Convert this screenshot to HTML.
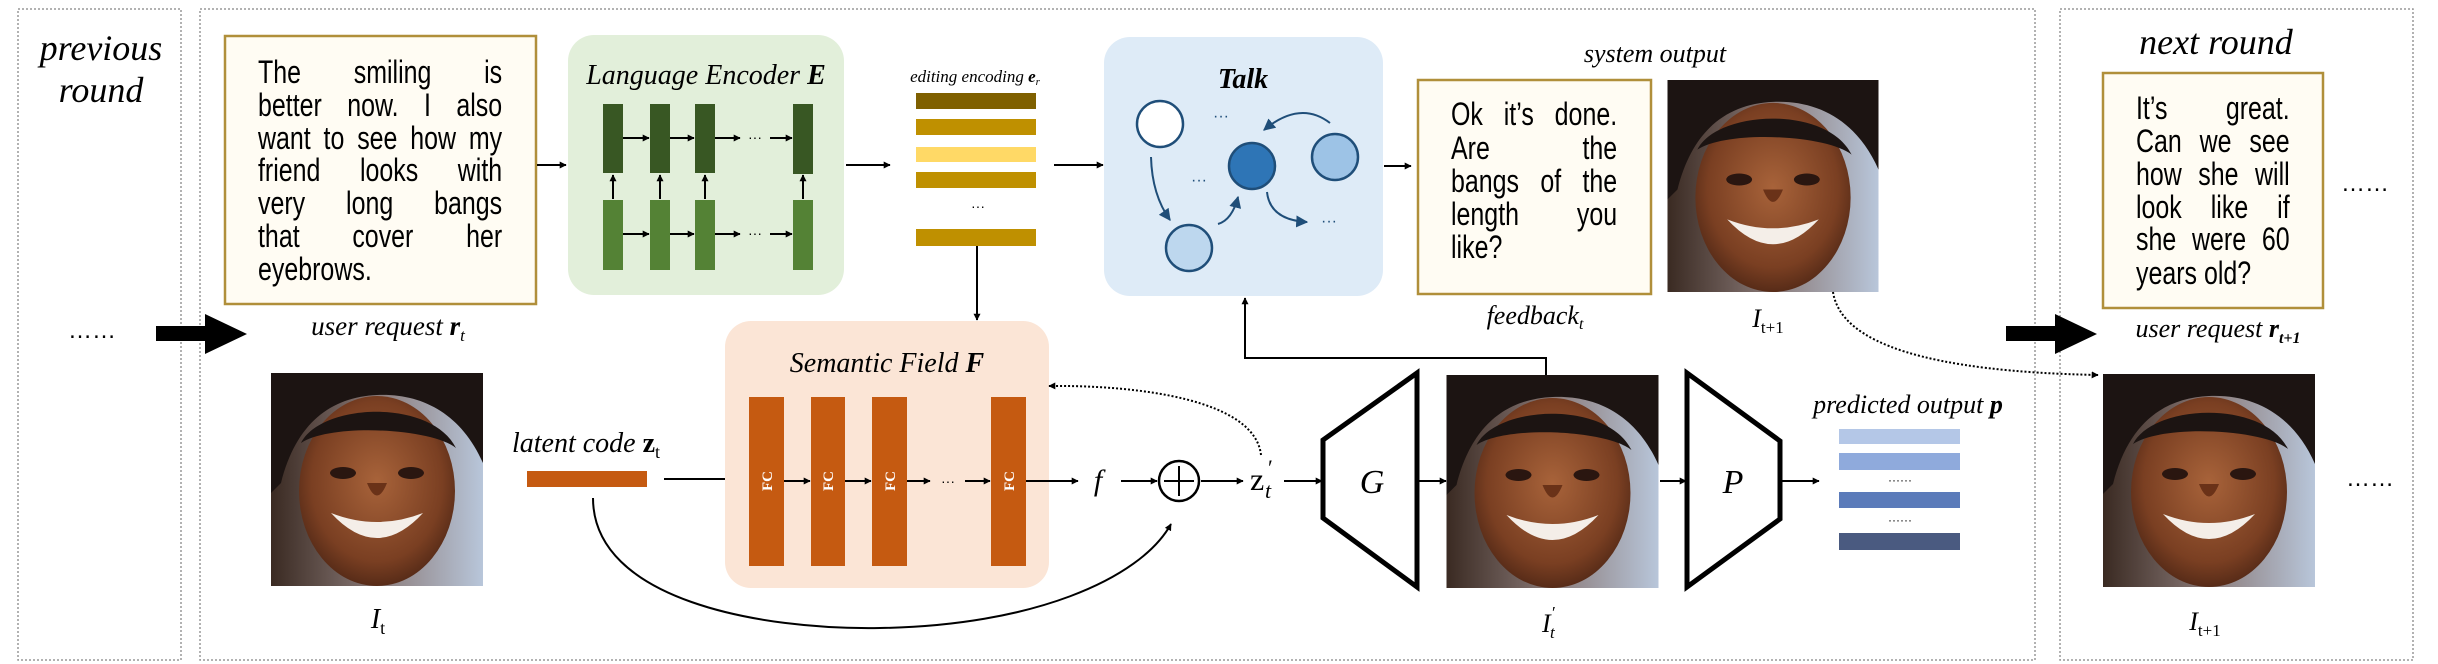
<!DOCTYPE html>
<html><head><meta charset="utf-8"><style>
html,body{margin:0;padding:0;background:#fff;}
body{position:relative;width:2438px;height:664px;overflow:hidden;}
svg{display:block;position:absolute;left:0;top:0;}
.it{font-family:"Liberation Serif",serif;font-style:italic;}
.ln{position:absolute;font-family:"Liberation Sans",sans-serif;font-size:32px;line-height:32px;white-space:nowrap;transform:scaleX(0.78);transform-origin:0 0;text-align:justify;text-align-last:justify;}
.ln.l{text-align:left;text-align-last:left;}
</style></head><body>
<svg width="2438" height="664" viewBox="0 0 2438 664" xmlns="http://www.w3.org/2000/svg">
<defs>
<marker id="ahs" viewBox="0 0 10 10" refX="9" refY="5" markerWidth="7" markerHeight="7" orient="auto" markerUnits="userSpaceOnUse"><path d="M0,0 L10,5 L0,10 z" fill="#000"/></marker>
<marker id="ahb" viewBox="0 0 10 10" refX="9" refY="5" markerWidth="6" markerHeight="6" orient="auto" markerUnits="strokeWidth"><path d="M0,0 L10,5 L0,10 z" fill="#1f4e79"/></marker>
<linearGradient id="bg" x1="0" y1="0" x2="1" y2="0"><stop offset="0" stop-color="#3a2a22"/><stop offset="0.5" stop-color="#8a7a78"/><stop offset="1" stop-color="#b8c6da"/></linearGradient>
<radialGradient id="skin" cx="0.5" cy="0.45" r="0.6"><stop offset="0" stop-color="#a8633a"/><stop offset="0.7" stop-color="#7a3f22"/><stop offset="1" stop-color="#4a2414"/></radialGradient>
<symbol id="face" viewBox="0 0 212 213">
<rect width="212" height="213" fill="url(#bg)"/>
<path d="M0,0 H212 V90 C190,40 150,20 106,22 C60,24 25,50 10,110 L0,120 Z" fill="#1c1412"/>
<ellipse cx="106" cy="118" rx="78" ry="95" fill="url(#skin)"/>
<path d="M30,70 C50,30 160,25 185,75 C160,55 60,50 30,70 Z" fill="#1c1412"/>
<ellipse cx="72" cy="100" rx="13" ry="6" fill="#2a1610"/>
<ellipse cx="140" cy="100" rx="13" ry="6" fill="#2a1610"/>
<path d="M60,140 Q106,190 152,140 Q106,158 60,140 Z" fill="#f4eee8"/>
<path d="M96,110 Q106,135 116,110" fill="#6a3218"/>
</symbol>
</defs>

<rect x="18" y="9" width="163" height="651" fill="none" stroke="#999" stroke-width="1.5" stroke-dasharray="2,2"/>
<rect x="200" y="9" width="1835" height="651" fill="none" stroke="#999" stroke-width="1.5" stroke-dasharray="2,2"/>
<rect x="2060" y="9" width="353" height="651" fill="none" stroke="#999" stroke-width="1.5" stroke-dasharray="2,2"/>

<text class="it" x="101" y="60" font-size="36" text-anchor="middle">previous</text>
<text class="it" x="101" y="102" font-size="36" text-anchor="middle">round</text>
<text class="it" x="2216" y="54" font-size="36" text-anchor="middle">next round</text>

<text x="92" y="338" font-size="24" text-anchor="middle" font-family="Liberation Sans,sans-serif">……</text>
<path d="M156,326 H205 V314 L247,334 L205,354 V341 H156 Z" fill="#000"/>
<path d="M2006,326 H2055 V314 L2097,334 L2055,354 V341 H2006 Z" fill="#000"/>
<text x="2365" y="191" font-size="24" text-anchor="middle" font-family="Liberation Sans,sans-serif">……</text>
<text x="2370" y="486" font-size="24" text-anchor="middle" font-family="Liberation Sans,sans-serif">……</text>

<rect x="225" y="36" width="311" height="268" fill="#fffcf3" stroke="#b08f3a" stroke-width="2.5"/>
<text class="it" x="388" y="335" font-size="27" text-anchor="middle">user request <tspan font-weight="bold">r</tspan><tspan font-size="17" dy="6">t</tspan></text>
<line x1="537" y1="165" x2="566" y2="165" stroke="#000" stroke-width="2" marker-end="url(#ahs)"/>

<rect x="568" y="35" width="276" height="260" rx="26" fill="#e2efda"/>
<text class="it" x="706" y="84" font-size="28" text-anchor="middle">Language Encoder <tspan font-weight="bold">E</tspan></text>
<g fill="#385723"><rect x="603" y="104" width="20" height="69"/><rect x="650" y="104" width="20" height="69"/><rect x="695" y="104" width="20" height="69"/><rect x="793" y="104" width="20" height="70"/></g>
<g fill="#548235"><rect x="603" y="200" width="20" height="70"/><rect x="650" y="200" width="20" height="70"/><rect x="695" y="200" width="20" height="70"/><rect x="793" y="200" width="20" height="70"/></g>
<g stroke="#000" stroke-width="2">
<line x1="623" y1="138" x2="649" y2="138" marker-end="url(#ahs)"/><line x1="670" y1="138" x2="694" y2="138" marker-end="url(#ahs)"/><line x1="715" y1="138" x2="740" y2="138" marker-end="url(#ahs)"/><line x1="770" y1="138" x2="792" y2="138" marker-end="url(#ahs)"/>
<line x1="623" y1="234" x2="649" y2="234" marker-end="url(#ahs)"/><line x1="670" y1="234" x2="694" y2="234" marker-end="url(#ahs)"/><line x1="715" y1="234" x2="740" y2="234" marker-end="url(#ahs)"/><line x1="770" y1="234" x2="792" y2="234" marker-end="url(#ahs)"/>
<line x1="613" y1="199" x2="613" y2="175" marker-end="url(#ahs)"/><line x1="660" y1="199" x2="660" y2="175" marker-end="url(#ahs)"/><line x1="705" y1="199" x2="705" y2="175" marker-end="url(#ahs)"/><line x1="803" y1="199" x2="803" y2="175" marker-end="url(#ahs)"/>
</g>
<text x="755" y="142" font-size="14" text-anchor="middle" font-family="Liberation Sans,sans-serif">···</text>
<text x="755" y="238" font-size="14" text-anchor="middle" font-family="Liberation Sans,sans-serif">···</text>
<line x1="846" y1="165" x2="890" y2="165" stroke="#000" stroke-width="2" marker-end="url(#ahs)"/>

<text class="it" x="975" y="82" font-size="17" text-anchor="middle">editing encoding <tspan font-weight="bold">e</tspan><tspan font-size="11" dy="3">r</tspan></text>
<rect x="916" y="93" width="120" height="16" fill="#7f6000"/>
<rect x="916" y="119" width="120" height="16" fill="#bf9000"/>
<rect x="916" y="147" width="120" height="15" fill="#ffd966"/>
<rect x="916" y="172" width="120" height="16" fill="#bf9000"/>
<text x="978" y="211" font-size="14" text-anchor="middle" font-family="Liberation Sans,sans-serif">···</text>
<rect x="916" y="229" width="120" height="17" fill="#bf9000"/>
<line x1="1054" y1="165" x2="1103" y2="165" stroke="#000" stroke-width="2" marker-end="url(#ahs)"/>
<line x1="977" y1="246" x2="977" y2="320" stroke="#000" stroke-width="2" marker-end="url(#ahs)"/>

<rect x="1104" y="37" width="279" height="259" rx="26" fill="#deebf7"/>
<text class="it" x="1243" y="88" font-size="28" font-weight="bold" text-anchor="middle">Talk</text>
<g stroke="#1f4e79" stroke-width="2.5">
<circle cx="1160" cy="124" r="23" fill="#fff"/>
<circle cx="1189" cy="248" r="23" fill="#bdd7ee"/>
<circle cx="1252" cy="166" r="23" fill="#2e75b6"/>
<circle cx="1335" cy="157" r="23" fill="#9dc3e6"/>
</g>
<g stroke="#1f4e79" stroke-width="2" fill="none">
<path d="M1151,157 Q1152,195 1170,220" marker-end="url(#ahb)"/>
<path d="M1218,224 Q1232,220 1238,197" marker-end="url(#ahb)"/>
<path d="M1330,123 Q1300,100 1264,130" marker-end="url(#ahb)"/>
<path d="M1267,192 Q1270,220 1307,222" marker-end="url(#ahb)"/>
</g>
<g fill="#1f4e79" font-size="16" text-anchor="middle" font-family="Liberation Sans,sans-serif">
<text x="1221" y="121">···</text><text x="1199" y="185">···</text><text x="1329" y="226">···</text>
</g>
<line x1="1384" y1="166" x2="1411" y2="166" stroke="#000" stroke-width="2" marker-end="url(#ahs)"/>

<text class="it" x="1655" y="62" font-size="26" text-anchor="middle">system output</text>
<rect x="1418" y="80" width="233" height="214" fill="#fffcf3" stroke="#b08f3a" stroke-width="2.5"/>
<text class="it" x="1535" y="324" font-size="26" text-anchor="middle">feedback<tspan font-size="16" dy="5">t</tspan></text>
<use href="#face" x="1667" y="80" width="212" height="212"/>
<text class="it" x="1768" y="327" font-size="26" text-anchor="middle">I<tspan font-size="17" dy="6" font-style="normal">t+1</tspan></text>

<rect x="2103" y="73" width="220" height="235" fill="#fffcf3" stroke="#b08f3a" stroke-width="2.5"/>
<text class="it" x="2218" y="337" font-size="26" text-anchor="middle">user request <tspan font-weight="bold">r</tspan><tspan font-size="16" dy="6" font-weight="bold">t+1</tspan></text>
<use href="#face" x="2103" y="374" width="212" height="213"/>
<text class="it" x="2205" y="630" font-size="26" text-anchor="middle">I<tspan font-size="17" dy="6" font-style="normal">t+1</tspan></text>
<path d="M1833,292 Q1845,370 2098,375" fill="none" stroke="#000" stroke-width="2" stroke-dasharray="2,2" marker-end="url(#ahs)"/>

<use href="#face" x="271" y="373" width="212" height="213"/>
<text class="it" x="378" y="628" font-size="28" text-anchor="middle">I<tspan font-size="18" dy="6" font-style="normal">t</tspan></text>
<text class="it" x="586" y="452" font-size="28" text-anchor="middle">latent code <tspan font-weight="bold" font-style="normal">z</tspan><tspan font-size="18" dy="6" font-style="normal">t</tspan></text>
<rect x="527" y="471" width="120" height="16" fill="#c55a11"/>
<line x1="664" y1="479" x2="747" y2="479" stroke="#000" stroke-width="2" marker-end="url(#ahs)"/>

<rect x="725" y="321" width="324" height="267" rx="26" fill="#fbe5d6"/>
<text class="it" x="887" y="372" font-size="28" text-anchor="middle">Semantic Field <tspan font-weight="bold">F</tspan></text>
<g fill="#c55a11"><rect x="749" y="397" width="35" height="169"/><rect x="811" y="397" width="34" height="169"/><rect x="872" y="397" width="35" height="169"/><rect x="991" y="397" width="35" height="169"/></g>
<g fill="#fff" font-family="Liberation Serif,serif" font-size="15" font-weight="bold" text-anchor="middle">
<text transform="translate(772,481) rotate(-90)">FC</text><text transform="translate(833,481) rotate(-90)">FC</text><text transform="translate(895,481) rotate(-90)">FC</text><text transform="translate(1014,481) rotate(-90)">FC</text>
</g>
<g stroke="#000" stroke-width="2">
<line x1="784" y1="481" x2="810" y2="481" marker-end="url(#ahs)"/><line x1="845" y1="481" x2="871" y2="481" marker-end="url(#ahs)"/><line x1="907" y1="481" x2="930" y2="481" marker-end="url(#ahs)"/><line x1="965" y1="481" x2="990" y2="481" marker-end="url(#ahs)"/>
<line x1="1026" y1="481" x2="1078" y2="481" marker-end="url(#ahs)"/><line x1="1121" y1="481" x2="1157" y2="481" marker-end="url(#ahs)"/><line x1="1201" y1="481" x2="1243" y2="481" marker-end="url(#ahs)"/><line x1="1284" y1="481" x2="1322" y2="481" marker-end="url(#ahs)"/>
<line x1="1419" y1="481" x2="1446" y2="481" marker-end="url(#ahs)"/><line x1="1660" y1="481" x2="1686" y2="481" marker-end="url(#ahs)"/><line x1="1781" y1="481" x2="1819" y2="481" marker-end="url(#ahs)"/>
</g>
<text x="948" y="486" font-size="14" text-anchor="middle" font-family="Liberation Sans,sans-serif">···</text>
<text class="it" x="1098" y="490" font-size="30" text-anchor="middle">f</text>
<circle cx="1179" cy="481" r="20" fill="#fff" stroke="#000" stroke-width="2.5"/>
<line x1="1179" y1="466" x2="1179" y2="496" stroke="#000" stroke-width="2"/>
<line x1="1164" y1="481" x2="1194" y2="481" stroke="#000" stroke-width="2"/>
<text x="1250" y="490" font-size="32" font-family="Liberation Serif,serif">z</text>
<text x="1265" y="498" font-size="22" font-style="italic" font-family="Liberation Serif,serif">t</text>
<text x="1268" y="475" font-size="22" font-family="Liberation Serif,serif">′</text>
<path d="M593,498 C593,600 760,630 880,628 C1030,626 1140,580 1171,524" fill="none" stroke="#000" stroke-width="2" marker-end="url(#ahs)"/>
<path d="M1261,455 C1255,400 1140,385 1049,386" fill="none" stroke="#000" stroke-width="2" stroke-dasharray="2,2" marker-end="url(#ahs)"/>

<polygon points="1323,440 1417,373 1417,587 1323,518" fill="#fff" stroke="#000" stroke-width="5"/>
<text class="it" x="1372" y="493" font-size="34" text-anchor="middle">G</text>
<use href="#face" x="1446" y="375" width="213" height="213"/>
<text class="it" x="1542" y="632" font-size="26">I</text>
<text x="1550" y="638" font-size="17" font-style="italic" font-family="Liberation Serif,serif">t</text>
<text x="1552" y="618" font-size="17" font-family="Liberation Serif,serif">′</text>
<polyline points="1546,375 1546,358 1245,358 1245,298" fill="none" stroke="#000" stroke-width="2" marker-end="url(#ahs)"/>
<polygon points="1687,373 1780,441 1780,519 1687,587" fill="#fff" stroke="#000" stroke-width="5"/>
<text class="it" x="1733" y="493" font-size="34" text-anchor="middle">P</text>

<text class="it" x="1908" y="413" font-size="26" text-anchor="middle">predicted output <tspan font-weight="bold">p</tspan></text>
<rect x="1839" y="429" width="121" height="15" fill="#b4c7e7"/>
<rect x="1839" y="453" width="121" height="17" fill="#8faadc"/>
<text x="1900" y="484" font-size="12" text-anchor="middle" font-family="Liberation Sans,sans-serif">······</text>
<rect x="1839" y="492" width="121" height="16" fill="#5b7bba"/>
<text x="1900" y="524" font-size="12" text-anchor="middle" font-family="Liberation Sans,sans-serif">······</text>
<rect x="1839" y="533" width="121" height="17" fill="#4a5a80"/>
</svg>

<div class="ln" style="left:258px;top:56px;width:313px">The smiling is</div>
<div class="ln" style="left:258px;top:89px;width:313px">better now. I also</div>
<div class="ln" style="left:258px;top:122px;width:313px">want to see how my</div>
<div class="ln" style="left:258px;top:154px;width:313px">friend looks with</div>
<div class="ln" style="left:258px;top:187px;width:313px">very long bangs</div>
<div class="ln" style="left:258px;top:220px;width:313px">that cover her</div>
<div class="ln l" style="left:258px;top:253px;width:313px">eyebrows.</div>

<div class="ln" style="left:1451px;top:98px;width:213px">Ok it’s done.</div>
<div class="ln" style="left:1451px;top:132px;width:213px">Are the</div>
<div class="ln" style="left:1451px;top:165px;width:213px">bangs of the</div>
<div class="ln" style="left:1451px;top:198px;width:213px">length you</div>
<div class="ln l" style="left:1451px;top:231px;width:213px">like?</div>

<div class="ln" style="left:2136px;top:92px;width:197px">It’s great.</div>
<div class="ln" style="left:2136px;top:125px;width:197px">Can we see</div>
<div class="ln" style="left:2136px;top:158px;width:197px">how she will</div>
<div class="ln" style="left:2136px;top:191px;width:197px">look like if</div>
<div class="ln" style="left:2136px;top:223px;width:197px">she were 60</div>
<div class="ln l" style="left:2136px;top:257px;width:197px">years old?</div>
</body></html>
